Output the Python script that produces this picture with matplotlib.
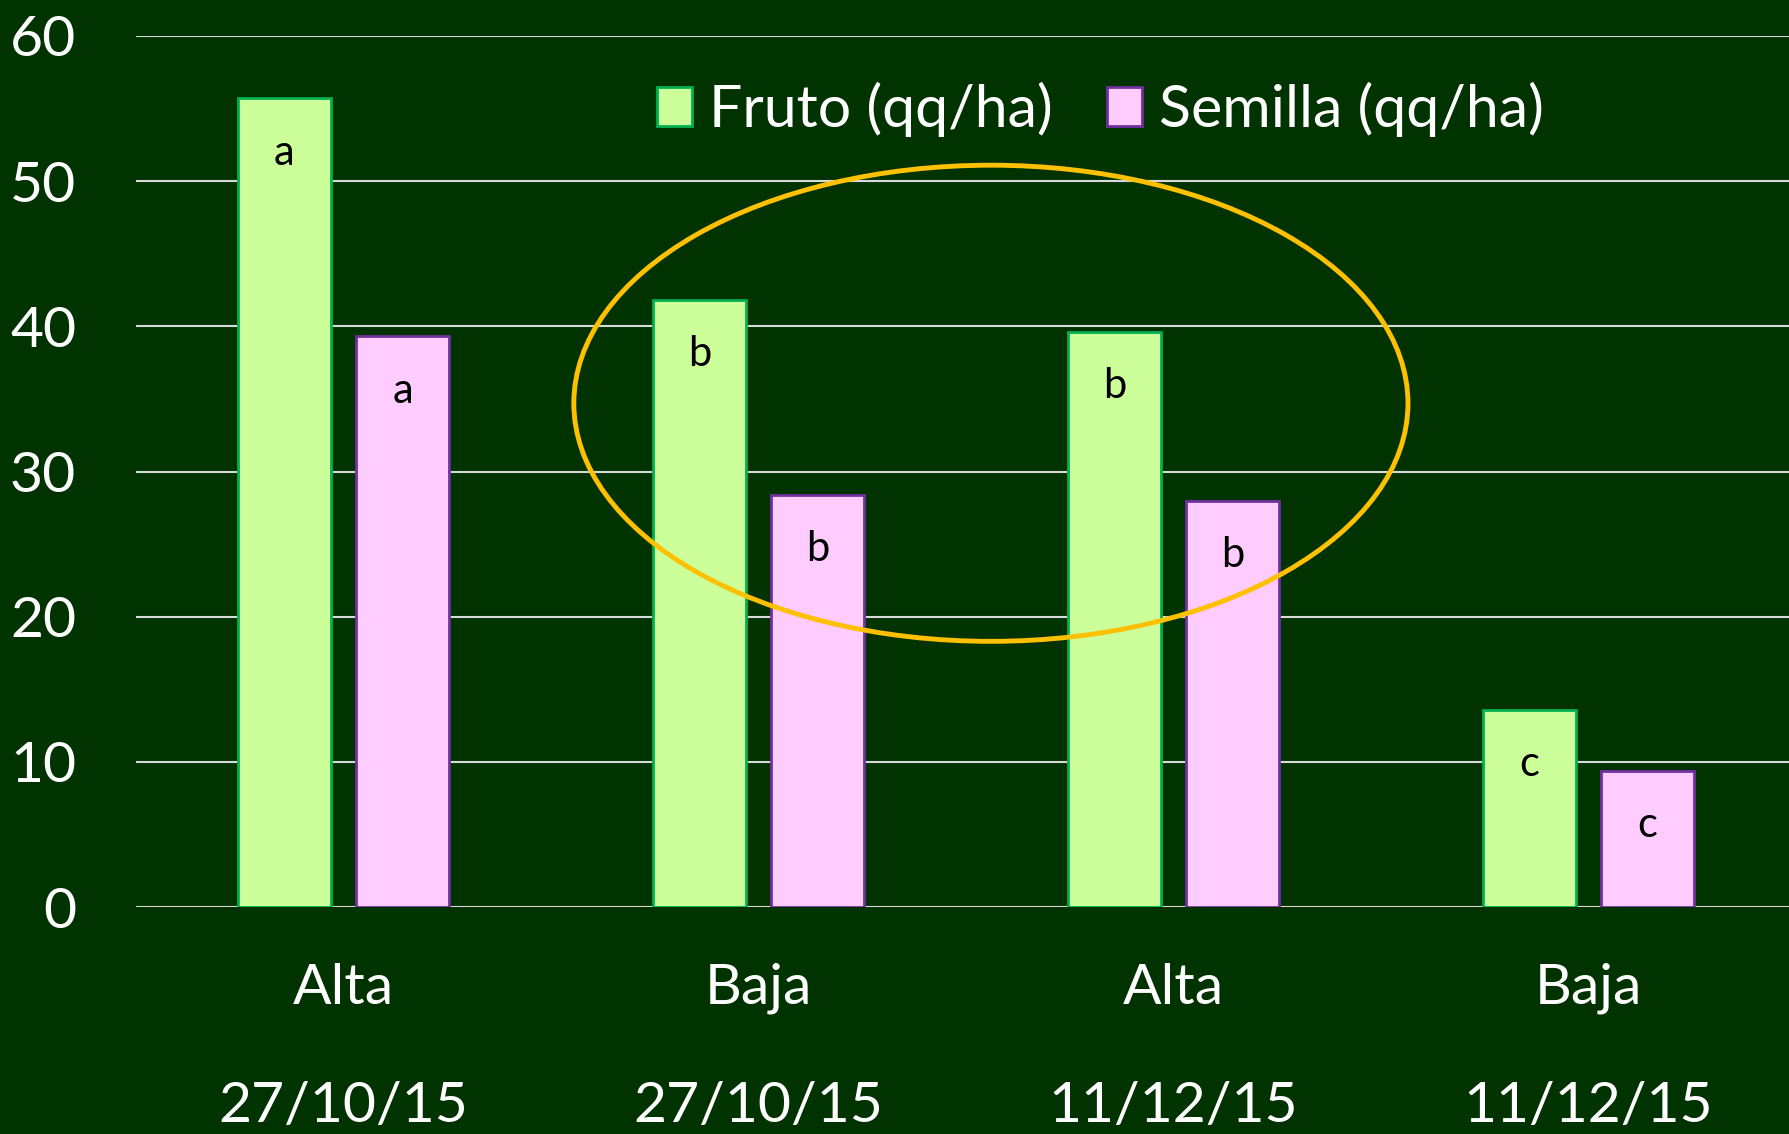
"""
Rendimiento de fruto y semilla por densidad y fecha de siembra.
"""

import matplotlib
matplotlib.use("Agg")
import matplotlib.pyplot as plt
import numpy as np
from matplotlib.patches import Ellipse

# Datos
densidades = ["Alta", "Baja", "Alta", "Baja"]
fechas = ["27/10/15", "27/10/15", "11/12/15", "11/12/15"]
fruto = [55.7, 41.8, 39.6, 13.6]
semilla = [39.3, 28.4, 28.0, 9.4]
letras_fruto = ["a", "b", "b", "c"]
letras_semilla = ["a", "b", "b", "c"]
series = ["Fruto (qq/ha)", "Semilla (qq/ha)"]

BG = "#003300"
FONT = "Lato"

plt.rcParams["font.family"] = [FONT, "DejaVu Sans"]

fig = plt.figure(figsize=(17.9, 11.34), dpi=100, facecolor=BG)
# axes placed in pixels: x 136..1796, y 36..907
ax = fig.add_axes([136 / 1790, 227 / 1134, 1660 / 1790, 871 / 1134])
ax.set_facecolor(BG)

x = np.arange(len(densidades))
width = 0.225
off = 0.1425

b1 = ax.bar(x - off, fruto, width, color="#CCFF99", edgecolor="#00B050",
            linewidth=2, label=series[0], zorder=3)
b2 = ax.bar(x + off, semilla, width, color="#FFCCFF", edgecolor="#7030A0",
            linewidth=2, label=series[1], zorder=3)

# letras de significancia dentro de las barras
for bars, letras in ((b1, letras_fruto), (b2, letras_semilla)):
    for rect, letra in zip(bars, letras):
        ax.annotate(letra, (rect.get_x() + rect.get_width() / 2, rect.get_height()),
                    xytext=(0, -39), textcoords="offset points",
                    ha="center", va="center", fontsize=30, color="black", zorder=4)

ax.set_xlim(-0.5, 3.5)
ax.set_ylim(0, 60)
ax.set_yticks(range(0, 61, 10))
ax.yaxis.grid(True, color="#D9D9D9", linewidth=1.5, zorder=0)
ax.set_axisbelow(True)
ax.tick_params(axis="y", length=0, pad=43, labelsize=41, labelcolor="white")
ax.tick_params(axis="x", length=0)
ax.set_xticks([])
for s in ax.spines.values():
    s.set_visible(False)

# etiquetas de categoria en dos niveles
trans = ax.get_xaxis_transform()
for xi, dens, fecha in zip(x, densidades, fechas):
    ax.text(xi, -0.0937, dens, transform=trans, ha="center", va="center",
            fontsize=41, color="white", clip_on=False)
    ax.text(xi, -0.2296, fecha, transform=trans, ha="center", va="center",
            fontsize=41, color="white", clip_on=False)

# elipse resaltando los tratamientos intermedios
ell = Ellipse((1.56, 34.7), 2.01, 32.8, fill=False, edgecolor="#FFC000",
              linewidth=3.5, zorder=5, clip_on=False)
ax.add_patch(ell)

leg = fig.legend(handles=[b1, b2], loc="center", bbox_to_anchor=(0.615, 0.9034),
                 ncol=2, frameon=False, fontsize=42.5, labelcolor="white",
                 handlelength=0.58, handleheight=0.63, handletextpad=0.3,
                 columnspacing=0.92, borderpad=0)

fig.savefig("out.png", dpi=100, facecolor=BG)
